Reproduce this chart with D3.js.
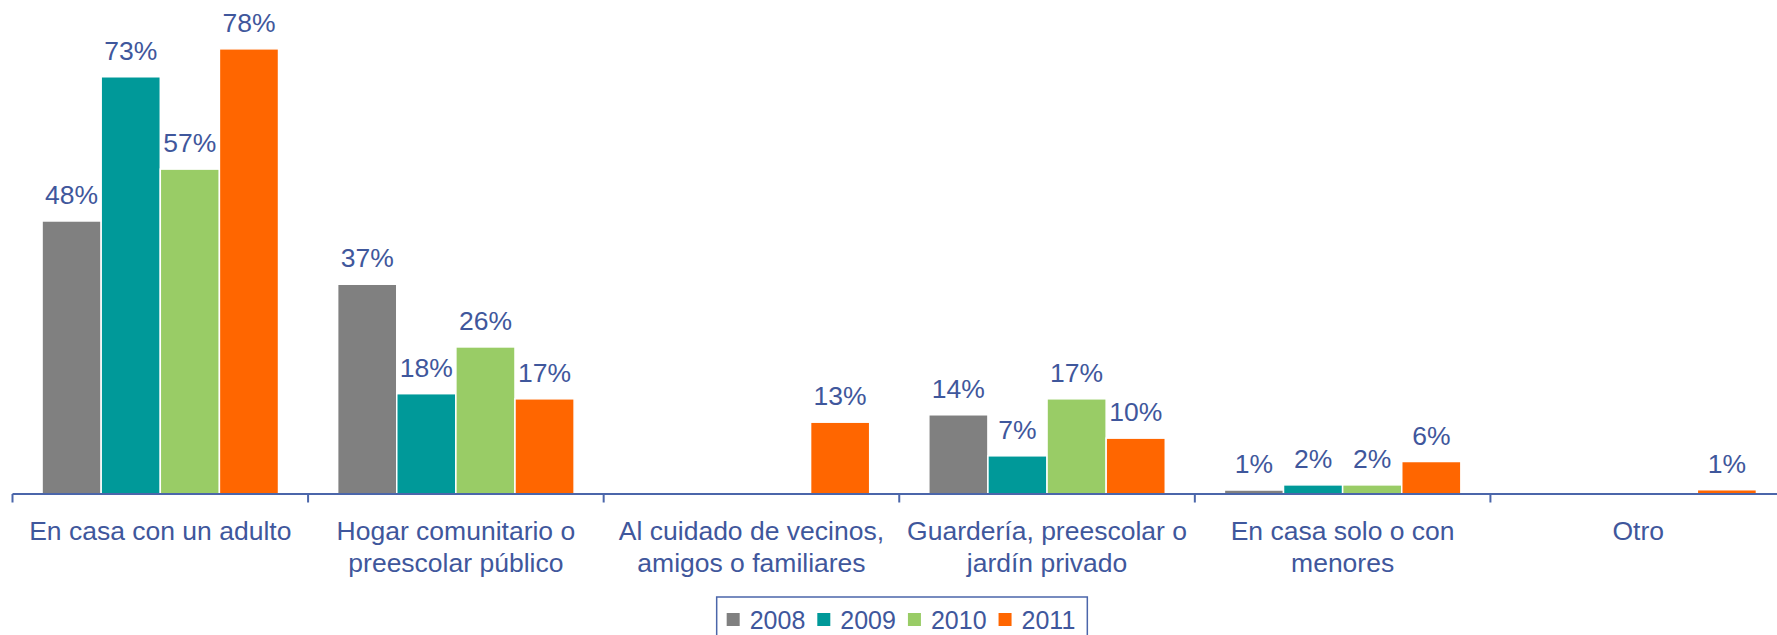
<!DOCTYPE html>
<html>
<head>
<meta charset="utf-8">
<script src="https://cdn.jsdelivr.net/npm/d3@7"></script>
<style>
  html, body { margin: 0; padding: 0; background: #fff; }
  svg { display: block; font-family: "Liberation Sans", Arial, sans-serif; }
</style>
</head>
<body>
<svg id="chart" width="1777" height="635"></svg>
<script>
// ---- data ----
const categories = [
  ["En casa con un adulto"],
  ["Hogar comunitario o", "preescolar público"],
  ["Al cuidado de vecinos,", "amigos o familiares"],
  ["Guardería, preescolar o", "jardín privado"],
  ["En casa solo o con", "menores"],
  ["Otro"]
];
const years = ["2008", "2009", "2010", "2011"];
const values2008 = [47.9, 36.8, null, 13.9, 0.7, null];
const values2009 = [73.2, 17.6, null, 6.7, 1.6, null];
const values2010 = [57.0, 25.8, null, 16.7, 1.6, null];
const values2011 = [78.1, 16.7, 12.6, 9.8, 5.7, 0.75];
const labels2008 = ["48%", "37%", null, "14%", "1%", null];
const labels2009 = ["73%", "18%", null, "7%", "2%", null];
const labels2010 = ["57%", "26%", null, "17%", "2%", null];
const labels2011 = ["78%", "17%", "13%", "10%", "6%", "1%"];
const colors = ["#808080", "#009999", "#99cc66", "#ff6600"];

const series = [values2008, values2009, values2010, values2011];
const seriesLabels = [labels2008, labels2009, labels2010, labels2011];

// ---- layout ----
const textColor = "#3f579c";
const axisColor = "#4b66aa";
const svg = d3.select("#chart");
const catIdx = categories.map((d, i) => i);

const x0 = d3.scaleBand().domain(catIdx).range([12.5, 1786]).paddingInner(0).paddingOuter(0);
const bw = x0.bandwidth();
const x1 = d3.scaleBand().domain(years).range([bw * 0.1, bw * 0.9]).padding(0);
const y = d3.scaleLinear().domain([0, 80]).range([494, 38]);

// bars
const g = svg.append("g");
series.forEach((vals, si) => {
  vals.forEach((v, ci) => {
    if (v == null) return;
    const bx = x0(ci) + x1(years[si]);
    g.append("rect")
      .attr("x", bx)
      .attr("y", y(v))
      .attr("width", x1.bandwidth())
      .attr("height", y(0) - y(v))
      .attr("fill", colors[si])
      .attr("stroke", "#ffffff")
      .attr("stroke-width", 1.5);
    g.append("text")
      .attr("x", bx + x1.bandwidth() / 2)
      .attr("y", y(v) - 17)
      .attr("text-anchor", "middle")
      .attr("font-size", 26.5)
      .attr("fill", textColor)
      .text(seriesLabels[si][ci]);
  });
});

// axis
const axis = d3.axisBottom(x0).tickSize(0).tickFormat("");
const ax = svg.append("g").attr("transform", `translate(0,${y(0)})`).call(axis);
ax.select(".domain").attr("stroke", axisColor).attr("stroke-width", 2.2).attr("d", `M12.5,0H1786`);
// boundary ticks
const bounds = catIdx.map(i => x0(i));
ax.selectAll(".btick").data(bounds).enter().append("line")
  .attr("x1", d => d).attr("x2", d => d)
  .attr("y1", 0).attr("y2", 8.5)
  .attr("stroke", axisColor).attr("stroke-width", 2);

// category labels
categories.forEach((lines, i) => {
  const t = svg.append("text")
    .attr("text-anchor", "middle")
    .attr("font-size", 26.5)
    .attr("fill", textColor);
  lines.forEach((ln, li) => {
    t.append("tspan")
      .attr("x", x0(i) + bw / 2)
      .attr("y", 540 + li * 31.5)
      .text(ln);
  });
});

// legend
const lg = svg.append("g");
let cx = 0;
years.forEach((yr, i) => {
  const it = lg.append("g");
  it.append("rect").attr("x", cx).attr("y", -7).attr("width", 13).attr("height", 13).attr("fill", colors[i]);
  const tx = it.append("text").attr("x", cx + 23).attr("y", 8.5).attr("font-size", 25).attr("fill", textColor).text(yr);
  const w = tx.node().getComputedTextLength();
  cx = cx + 23 + w + 12;
});
const totalW = cx - 12;
const boxW = totalW + 22;
const boxX = 902 - boxW / 2;
lg.attr("transform", `translate(${boxX + 10},620)`);
lg.insert("rect", ":first-child")
  .attr("x", -10).attr("y", -23).attr("width", boxW).attr("height", 50)
  .attr("fill", "none").attr("stroke", axisColor).attr("stroke-width", 1.5);
</script>
</body>
</html>
